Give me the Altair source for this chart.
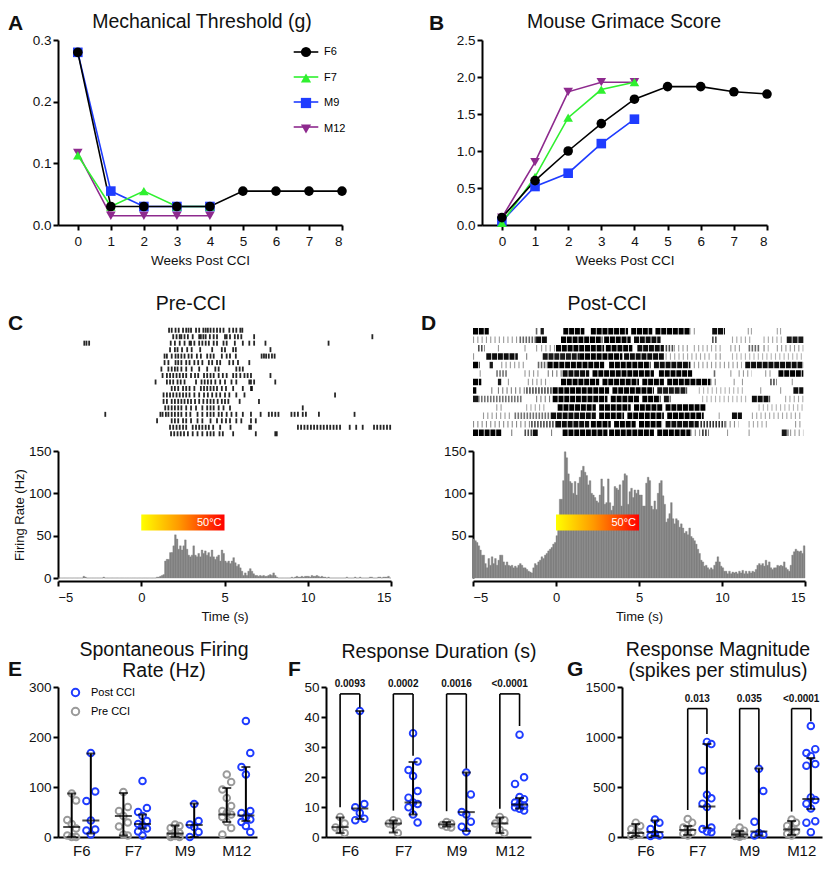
import altair as alt
import pandas as pd

FONT = "Liberation Sans"
INK = "#111111"
BLUE = "#1f3cff"
GRAY = "#9a9a9a"
TFS = 19.5   # panel title font size
LFS = 21     # panel letter font size

# ---------------- A / B : behaviour time courses ----------------
weeks = [0, 1, 2, 3, 4, 5, 6, 7, 8]
animals = ["F6", "F7", "M9", "M12"]
animal_colors = ["#000000", "#2ff02f", "#1f3cff", "#8e2a8e"]
animal_shapes = ["circle", "triangle-up", "square", "triangle-down"]
animal_layer = [3, 2, 1, 0]

mech_F6 = [0.28, 0.03, 0.03, 0.03, 0.03, 0.055, 0.055, 0.055, 0.055]
mech_F7 = [0.113, 0.03, 0.055, 0.03, 0.03]
mech_M9 = [0.28, 0.055, 0.03, 0.03, 0.03]
mech_M12 = [0.117, 0.015, 0.015, 0.015, 0.015]

mgs_F6 = [0.10, 0.60, 1.00, 1.37, 1.70, 1.87, 1.87, 1.80, 1.77]
mgs_F7 = [0.03, 0.65, 1.45, 1.83, 1.93]
mgs_M9 = [0.05, 0.52, 0.70, 1.10, 1.43]
mgs_M12 = [0.10, 0.85, 1.80, 1.93, 1.93]

# ---------------- C / D : rasters and PSTHs ----------------
time_ticks = [-5, 0, 5, 10, 15]
hist_start = -5.0
hist_bin = 0.1
stim_on, stim_off, stim_lo, stim_hi, stim_label = 0.0, 5.0, 56, 75, "50°C"

pre_spikes = [
    [1.67, 1.83, 2.06, 2.25, 2.51, 2.70, 2.84, 2.99, 3.29, 3.48, 3.73, 3.87, 4.00, 4.16, 4.35, 4.55, 4.74, 4.94, 5.29, 5.52, 5.71, 5.95, 6.07],
    [1.92, 2.12, 2.31, 2.41, 2.60, 2.80, 3.09, 3.48, 3.58, 3.73, 3.87, 4.12, 4.35, 4.55, 5.03, 5.13, 5.33, 5.62, 5.81, 6.01, 6.78, 13.88],
    [-3.42, -3.29, -3.13, 1.77, 2.02, 2.31, 2.60, 2.90, 2.99, 3.19, 3.48, 3.67, 3.87, 4.06, 4.35, 4.55, 4.94, 5.13, 5.62, 6.10, 6.49, 6.78, 7.46, 11.25],
    [1.73, 2.02, 2.18, 2.45, 2.76, 3.03, 3.54, 4.26, 4.84, 5.03, 5.52, 5.68, 7.76],
    [1.40, 1.54, 1.83, 2.06, 2.22, 2.41, 2.60, 2.84, 3.03, 3.34, 3.58, 3.96, 4.16, 4.35, 4.84, 5.13, 5.33, 5.68, 7.23, 7.37, 7.50, 7.66, 7.85, 8.01],
    [1.40, 1.63, 2.06, 2.22, 2.41, 2.70, 2.90, 3.19, 3.42, 3.67, 4.06, 4.26, 4.55, 4.74, 5.29, 5.52, 5.81, 6.49],
    [1.21, 1.63, 1.83, 2.02, 2.18, 2.41, 2.70, 3.03, 3.48, 3.96, 4.45, 4.65, 5.71, 5.91, 6.10],
    [1.28, 1.54, 1.73, 1.92, 2.12, 2.31, 2.51, 2.70, 2.99, 3.23, 3.42, 3.77, 3.96, 4.16, 4.35, 4.65, 4.90, 5.13, 5.52, 5.71, 5.95, 6.20, 6.39, 6.59, 7.76],
    [0.86, 1.54, 1.73, 1.92, 2.18, 2.37, 2.60, 3.29, 3.62, 3.81, 4.00, 4.20, 4.45, 4.74, 5.03, 5.42, 5.71, 6.49, 6.59, 6.78, 8.05],
    [1.83, 2.02, 2.22, 2.51, 2.70, 2.90, 3.19, 3.58, 3.77, 3.96, 4.16, 4.35, 4.55, 4.84, 5.09, 5.52, 6.10, 6.59, 6.65],
    [1.34, 1.54, 1.73, 1.92, 2.12, 2.31, 2.51, 2.70, 2.90, 3.19, 3.48, 3.77, 4.00, 4.26, 4.51, 4.74, 5.03, 5.29, 5.71, 6.20, 11.64],
    [1.34, 1.54, 1.83, 2.02, 2.22, 2.41, 2.60, 2.80, 2.99, 3.23, 3.48, 3.73, 3.96, 4.16, 4.35, 4.59, 4.84, 5.03, 5.23, 5.91, 7.07],
    [1.44, 1.63, 1.83, 2.02, 2.22, 2.41, 2.70, 2.99, 3.29, 3.67, 3.96, 4.16, 4.35, 4.65, 4.94, 5.33, 9.70],
    [-2.16, 1.15, 1.28, 1.48, 1.63, 1.83, 2.02, 2.22, 2.41, 2.70, 2.95, 3.38, 3.67, 3.96, 4.16, 4.35, 4.65, 4.84, 5.13, 5.42, 5.71, 6.10, 6.59, 7.17, 7.66, 7.85, 8.05, 8.24, 9.02, 9.21, 9.41, 9.70, 9.89, 10.67, 12.81],
    [0.95, 1.83, 2.02, 2.22, 2.51, 2.70, 2.99, 3.38, 3.67, 4.16, 4.55, 4.84, 5.09, 5.33, 5.71, 6.01, 6.59, 6.88],
    [1.73, 1.92, 2.12, 2.31, 2.51, 2.70, 3.09, 3.29, 3.48, 3.67, 3.87, 4.06, 4.32, 4.74, 5.36, 6.49, 6.59, 9.41, 9.60, 9.80, 9.99, 10.19, 10.38, 10.57, 10.77, 10.96, 11.16, 11.35, 11.55, 11.74, 11.94, 12.52, 12.91, 13.30, 13.98, 14.17, 14.37, 14.56, 14.76, 14.95],
    [1.79, 1.98, 2.18, 2.37, 2.57, 2.80, 3.09, 3.38, 3.67, 3.96, 4.16, 4.35, 4.70, 4.90, 5.52, 6.88, 8.05, 8.14],
]

# post-CCI raster: [start, end, darkness] runs of spikes per trial
post_runs = [
    [[-5.0, -4.05, 0.9], [-1.22, -1.08, 0.5], [-0.93, -0.73, 0.8], [0.44, 1.71, 0.9], [2.10, 4.34, 0.9], [4.53, 5.80, 0.9], [5.99, 8.04, 0.9], [8.04, 8.53, 0.3], [9.41, 10.18, 0.85], [11.55, 11.62, 0.3], [11.74, 11.80, 0.3], [13.30, 13.36, 0.3], [13.50, 13.56, 0.3]],
    [[-5.0, -2.2, 0.3], [-2.2, -1.2, 0.5], [-1.2, -0.5, 0.85], [0.3, 2.8, 0.9], [2.9, 4.5, 0.9], [4.7, 6.3, 0.85], [9.4, 9.7, 0.6], [10.6, 11.8, 0.25], [12.5, 13.6, 0.25], [13.9, 14.9, 0.8]],
    [[-4.7, -4.3, 0.6], [-3.5, -3.4, 0.3], [-1.9, -1.8, 0.3], [-1.2, -1.0, 0.3], [-0.9, 0.0, 0.3], [0.0, 2.9, 0.9], [3.0, 4.6, 0.9], [4.9, 6.5, 0.85], [6.6, 7.1, 0.6], [7.1, 8.1, 0.3], [8.3, 10.0, 0.25], [10.5, 11.2, 0.3], [11.6, 12.3, 0.5], [12.5, 12.8, 0.4], [13.3, 14.9, 0.3]],
    [[-5.0, -4.8, 0.3], [-4.2, -2.3, 0.85], [-1.8, -1.7, 0.4], [-0.8, 1.4, 0.8], [1.4, 4.0, 0.9], [4.1, 6.5, 0.85], [6.6, 9.3, 0.25], [9.6, 10.0, 0.3], [10.6, 14.9, 0.2]],
    [[-5.0, -4.6, 0.9], [-4.0, -3.8, 0.8], [-3.3, -1.9, 0.3], [-1.1, -0.5, 0.5], [-0.5, 2.9, 0.9], [3.2, 5.7, 0.9], [5.9, 8.1, 0.85], [8.3, 11.2, 0.3], [11.4, 14.9, 0.85]],
    [[-4.6, -4.5, 0.3], [-3.6, -2.9, 0.45], [-1.9, -0.9, 0.3], [-0.5, 0.4, 0.4], [0.4, 2.0, 0.85], [2.2, 5.9, 0.9], [6.2, 8.2, 0.9], [9.5, 9.6, 0.5], [10.5, 10.6, 0.3], [11.0, 11.8, 0.3], [12.6, 13.0, 0.3], [13.4, 14.9, 0.9]],
    [[-5.0, -4.5, 0.9], [-3.5, -3.3, 0.8], [-2.9, -2.8, 0.3], [-1.7, -0.4, 0.3], [0.3, 2.6, 0.9], [2.8, 5.0, 0.9], [5.2, 6.5, 0.9], [6.7, 9.3, 0.9], [9.3, 9.8, 0.4], [10.7, 10.8, 0.3], [11.2, 11.3, 0.3], [12.9, 13.3, 0.6], [14.2, 14.3, 0.3]],
    [[-5.0, -4.8, 0.9], [-3.9, -3.8, 0.4], [-3.5, -1.8, 0.4], [-1.8, -0.2, 0.6], [-0.2, 3.2, 0.9], [3.4, 5.9, 0.9], [6.1, 7.9, 0.8], [8.6, 11.4, 0.2], [12.3, 12.4, 0.3], [13.5, 13.6, 0.3], [14.3, 14.9, 0.85]],
    [[-5.0, -4.7, 0.8], [-4.7, -2.0, 0.45], [-1.2, -0.2, 0.4], [-0.2, 3.1, 0.9], [3.3, 5.0, 0.9], [5.2, 6.3, 0.9], [6.5, 6.9, 0.8], [8.8, 11.6, 0.2], [11.8, 12.9, 0.85], [13.8, 14.9, 0.25]],
    [[-3.6, -3.1, 0.3], [-1.8, -0.7, 0.25], [0.1, 2.4, 0.9], [2.6, 4.5, 0.9], [4.7, 6.4, 0.9], [6.6, 9.0, 0.9], [12.2, 14.9, 0.2]],
    [[-4.4, -2.7, 0.3], [-2.5, -0.3, 0.45], [-0.3, 2.4, 0.85], [2.6, 4.1, 0.9], [4.3, 6.5, 0.9], [6.7, 8.9, 0.9], [9.8, 9.86, 0.3], [10.6, 11.2, 0.85], [11.8, 14.9, 0.25]],
    [[-5.0, -1.5, 0.35], [-1.5, 0.0, 0.6], [0.0, 2.0, 0.85], [2.1, 3.3, 0.9], [3.5, 4.8, 0.9], [5.0, 6.4, 0.9], [6.6, 8.6, 0.85], [8.7, 10.2, 0.7], [10.2, 11.0, 0.35], [11.6, 12.8, 0.25], [14.4, 14.9, 0.3]],
    [[-5.0, -3.3, 0.9], [-2.7, -2.6, 0.4], [-1.9, -1.4, 0.6], [-1.4, -1.1, 0.85], [-0.3, -0.2, 0.4], [0.4, 3.1, 0.9], [3.2, 5.9, 0.9], [6.1, 8.1, 0.9], [8.1, 8.8, 0.35], [8.8, 9.2, 0.7], [10.3, 10.4, 0.3], [11.6, 11.7, 0.3], [13.6, 14.0, 0.8], [14.1, 14.9, 0.3]],
]
run_kinds = ["dense", "medium", "sparse"]
run_dashes = [[5, 0.8], [1.6, 1.4], [1.1, 3.2]]

hist_pre = [
    0, 0, 0, 0, 0, 0, 0, 0, 0, 0,
    0, 0, 0, 0, 0, 2, 1, 0, 0, 0,
    0, 0, 0, 0, 0, 0, 0, 1, 0, 0,
    0, 0, 0, 0, 0, 0, 0, 0, 0, 0,
    0, 0, 0, 0, 0, 0, 0, 0, 0, 0,
    0, 0, 0, 0, 0, 0, 0, 0, 0, 1,
    1, 2, 3, 4, 20, 22, 22, 30, 30, 38,
    51, 46, 34, 38, 33, 38, 45, 34, 27, 25,
    27, 38, 27, 25, 29, 25, 33, 29, 32, 27,
    30, 25, 33, 25, 22, 25, 27, 20, 33, 29,
    20, 18, 20, 17, 20, 24, 18, 14, 16, 12,
    8, 3, 6, 3, 8, 11, 8, 5, 3, 3,
    2, 3, 2, 3, 2, 2, 3, 4, 3, 6,
    3, 1, 0, 0, 0, 0, 0, 0, 0, 0,
    1, 0, 1, 2, 1, 1, 2, 1, 2, 2,
    2, 1, 3, 2, 2, 3, 2, 1, 2, 1,
    1, 0, 1, 0, 0, 0, 0, 0, 0, 0,
    0, 0, 0, 1, 0, 0, 0, 0, 1, 0,
    0, 1, 0, 0, 0, 0, 0, 1, 1, 0,
    0, 0, 1, 1, 0, 1, 1, 1, 2, 0,
]

hist_post = [
    46, 44, 42, 38, 33, 27, 27, 17, 12, 23,
    15, 25, 17, 23, 15, 21, 27, 27, 19, 15,
    19, 15, 14, 15, 12, 14, 12, 15, 17, 15,
    12, 12, 10, 8, 7, 6, 12, 17, 15, 19,
    21, 25, 23, 27, 29, 32, 34, 36, 40, 42,
    50, 70, 93, 93, 115, 149, 142, 123, 114, 112,
    100, 114, 98, 112, 119, 127, 132, 125, 121, 110,
    115, 100, 98, 95, 91, 89, 98, 117, 108, 87,
    89, 117, 89, 80, 85, 108, 106, 104, 110, 85,
    115, 123, 121, 87, 102, 106, 95, 104, 100, 104,
    98, 98, 85, 85, 112, 119, 115, 85, 81, 91,
    81, 100, 112, 115, 97, 87, 66, 70, 76, 89,
    70, 64, 70, 68, 60, 64, 59, 53, 55, 51,
    59, 49, 47, 44, 40, 34, 29, 21, 19, 14,
    15, 12, 10, 12, 10, 15, 19, 25, 19, 14,
    12, 8, 8, 5, 8, 5, 7, 6, 7, 5,
    8, 6, 9, 5, 8, 5, 8, 6, 8, 7,
    10, 15, 17, 15, 17, 14, 21, 15, 19, 12,
    10, 12, 12, 15, 14, 15, 14, 19, 12, 10,
    8, 15, 27, 31, 34, 32, 31, 32, 29, 38,
]

# ---------------- E / F / G : per-animal dot plots ----------------
groups = ["Post CCI", "Pre CCI"]

sfr_pre = {"F6": [87, 73, 34, 26, 17, 3, 0, 0], "F7": [90, 60, 52, 42, 29, 21, 5, 3],
           "M9": [25, 22, 18, 10, 8, 5, 2, 0, 0], "M12": [125, 110, 95, 78, 62, 52, 48, 45, 40, 30, 18, 5]}
sfr_post = {"F6": [168, 91, 72, 33, 15, 13, 5], "F7": [112, 58, 50, 42, 32, 26, 23, 17, 11, 3],
            "M9": [66, 32, 25, 20, 10, 0], "M12": [232, 168, 140, 125, 52, 48, 40, 35, 30, 22, 10]}
sfr_pre_bar = {"F6": [0, 20, 87], "F7": [3, 42, 88], "M9": [0, 7, 23], "M12": [30, 45, 98]}
sfr_post_bar = {"F6": [7, 33, 167], "F7": [17, 26, 45], "M9": [0, 24, 67], "M12": [32, 43, 140]}

rd_pre = {"F6": [6.7, 4.5, 3.2, 2.4, 1.3], "F7": [5.6, 5.1, 4.5, 4.0, 1.3],
          "M9": [5.0, 4.5, 4.0, 3.4, 3.2], "M12": [6.7, 5.6, 4.5, 2.4, 1.3]}
rd_post = {"F6": [42, 11, 9.9, 8, 6.1, 5.6], "F7": [34.6, 25.2, 22.3, 20.3, 15.3, 13.1, 11.5, 11, 9.9, 7.5, 4.8],
           "M9": [21.5, 14.2, 8.3, 7.5, 5.1, 3.4, 1.8], "M12": [34.1, 19.9, 17.7, 13.3, 12.6, 11.5, 11, 10.4, 9.9, 9.4, 8.8]}
rd_pre_bar = {"F6": [1.3, 3.3, 6.5], "F7": [1.5, 4.5, 5.5], "M9": [3.5, 4.2, 5.0], "M12": [1.3, 4.5, 6.5]}
rd_post_bar = {"F6": [6, 9.5, 42], "F7": [7.5, 11.5, 25], "M9": [2, 8.3, 21.5], "M12": [9.5, 10.8, 13]}
rd_brackets = {"cat": [1, 2, 3, 4], "pre_leg": [9.9, 8.8, 8.6, 9.4], "post_leg": [43.2, 27.1, 22.8, 37.0],
               "top": [47.7] * 4, "p": ["0.0093", "0.0002", "0.0016", "<0.0001"], "p_y": [49.2] * 4}

rm_pre = {"F6": [143, 111, 79, 48, 22, 10], "F7": [180, 143, 95, 73, 48, 32, 16],
          "M9": [95, 63, 48, 32, 16, 10, 3], "M12": [174, 143, 111, 79, 54, 32, 16]}
rm_post = {"F6": [174, 143, 79, 32, 16, 10], "F7": [951, 929, 666, 422, 387, 333, 301, 95, 79, 54, 48],
           "M9": [682, 460, 152, 41, 22, 16],
           "M12": [1110, 878, 840, 808, 729, 713, 396, 371, 333, 285, 158, 143, 48]}
rm_pre_bar = {"F6": [10, 40, 130], "F7": [20, 70, 110], "M9": [5, 25, 60], "M12": [20, 75, 160]}
rm_post_bar = {"F6": [10, 50, 165], "F7": [90, 305, 930], "M9": [15, 55, 685], "M12": [280, 380, 790]}
rm_brackets = {"cat": [2, 3, 4], "pre_leg": [270, 175, 254], "post_leg": [1030, 713, 1157],
               "top": [1284] * 3, "p": ["0.013", "0.035", "<0.0001"], "p_y": [1330] * 3}

GROUP_OFFSET = 0.185
JITTER = 0.085


def text_layer(text, x, y, size, weight="normal", align="center", baseline="alphabetic", line_height=None):
    kw = dict(text=text, fontSize=size, fontWeight=weight, align=align, baseline=baseline,
              font=FONT, color=INK)
    if line_height:
        kw["lineHeight"] = line_height
    return alt.Chart(pd.DataFrame({"k": [0]})).mark_text(**kw).encode(
        x=alt.value(x), y=alt.value(y))


def course_panel(series, ydom, yvals, yfmt, width, height, title, tx, ty, letter, lx, ly, legend):
    rows = []
    for a, vals in series.items():
        for w, v in zip(weeks, vals):
            rows.append({"animal": a, "week": w, "value": v, "z": animal_layer[animals.index(a)]})
    df = pd.DataFrame(rows)
    xenc = alt.X("week:Q", scale=alt.Scale(domain=[-0.6, 8], nice=False, zero=False),
                 axis=alt.Axis(values=weeks, format="d", title="Weeks Post CCI", titlePadding=6,
                               labelPadding=4))
    yenc = alt.Y("value:Q", scale=alt.Scale(domain=ydom, nice=False),
                 axis=alt.Axis(values=yvals, format=yfmt, title=None))
    cscale = alt.Scale(domain=animals, range=animal_colors)
    sscale = alt.Scale(domain=animals, range=animal_shapes)
    # line key uses a distinct (space-suffixed) domain so it is not merged with the marker key
    line_domain = [a + " " for a in animals]
    lscale = alt.Scale(domain=line_domain, range=animal_colors)
    common = dict(orient="none", legendX=242, legendY=6, title=None, labelFontSize=11,
                  symbolSize=105, rowPadding=14, labelOffset=12, labelFont=FONT)
    if legend:
        pt_leg = alt.Legend(**common)
        line_leg = alt.Legend(symbolType="M-2.4,0L2.4,0", symbolStrokeWidth=1.6,
                              labelOpacity=0, labelExpr="''", **common)
    else:
        pt_leg = None
        line_leg = None
    lines = alt.Chart(df).transform_calculate(series="datum.animal + ' '").mark_line(
        strokeWidth=1.6).encode(
        x=xenc, y=yenc,
        stroke=alt.Stroke("series:N", scale=lscale, legend=line_leg),
        order="week:Q")
    pts = alt.Chart(df).mark_point(filled=True, size=92, opacity=1).encode(
        x=xenc, y=yenc,
        color=alt.Color("animal:N", scale=cscale, legend=pt_leg),
        shape=alt.Shape("animal:N", scale=sscale, legend=pt_leg),
        order=alt.Order("z:Q"))
    return alt.layer(
        lines, pts,
        text_layer(title, tx, ty, TFS),
        text_layer(letter, lx, ly, LFS, weight="bold", align="left"),
    ).resolve_legend(stroke="independent", color="independent", shape="independent"
                     ).properties(width=width, height=height)


def raster_pre(width, height, title, tx, ty, letter, lx, ly):
    rows = [{"trial": i, "t": t} for i, tr in enumerate(pre_spikes) for t in tr]
    df = pd.DataFrame(rows)
    ras = alt.Chart(df).mark_tick(thickness=1.8, size=5, opacity=0.85, color="black").encode(
        x=alt.X("t:Q", scale=alt.Scale(domain=[-5, 15], nice=False, zero=False), axis=None),
        y=alt.Y("trial:O", axis=None))
    return alt.layer(ras, text_layer(title, tx, ty, TFS),
                     text_layer(letter, lx, ly, LFS, weight="bold", align="left")
                     ).properties(width=width, height=height)


def raster_post(width, height, title, tx, ty, letter, lx, ly):
    rows = []
    for i, tr in enumerate(post_runs):
        for s, e, d in tr:
            kind = "dense" if d >= 0.75 else ("medium" if d >= 0.45 else "sparse")
            rows.append({"trial": i, "start": s, "end": e, "shade": min(1.0, d + 0.1), "kind": kind})
    df = pd.DataFrame(rows)
    ras = alt.Chart(df).mark_rule(color="black", strokeWidth=6.5).encode(
        x=alt.X("start:Q", scale=alt.Scale(domain=[-5, 15], nice=False, zero=False), axis=None),
        x2="end:Q",
        y=alt.Y("trial:O", axis=None, scale=alt.Scale(type="point", padding=0.5)),
        strokeDash=alt.StrokeDash("kind:N", scale=alt.Scale(domain=run_kinds, range=run_dashes),
                                  legend=None),
        opacity=alt.Opacity("shade:Q", scale=None))
    return alt.layer(ras, text_layer(title, tx, ty, TFS),
                     text_layer(letter, lx, ly, LFS, weight="bold", align="left")
                     ).properties(width=width, height=height)


def psth(rates, yvals, ytitle, width, height):
    df = pd.DataFrame({"bin": list(range(len(rates))), "rate": rates})
    xscale = alt.Scale(domain=[-5, 15], nice=False, zero=False)
    yscale = alt.Scale(domain=[0, 150], nice=False)
    xaxis = alt.Axis(values=time_ticks, title="Time (s)", offset=3, titleFontSize=13,
                     labelFontSize=13, labelPadding=5, titlePadding=6)
    yaxis = alt.Axis(values=yvals, title=ytitle, titleFontSize=13, titlePadding=2, labelPadding=2)
    bars = alt.Chart(df).transform_calculate(
        t0=f"{hist_start} + datum.bin * {hist_bin}",
        t1=f"{hist_start} + (datum.bin + 1) * {hist_bin}",
    ).mark_rect(color="#808080", stroke="#808080", strokeWidth=0.4).encode(
        x=alt.X("t0:Q", scale=xscale, axis=xaxis, title="Time (s)"),
        x2="t1:Q",
        y=alt.Y("rate:Q", scale=yscale, axis=yaxis, title=ytitle),
        y2=alt.datum(0))
    sdf = pd.DataFrame({"start": [stim_on], "end": [stim_off], "lo": [stim_lo], "hi": [stim_hi],
                        "label": [stim_label]})
    grad = alt.Gradient(gradient="linear",
                        stops=[alt.GradientStop(color="#ffff00", offset=0),
                               alt.GradientStop(color="#ff9a00", offset=0.45),
                               alt.GradientStop(color="#ff0000", offset=1)],
                        x1=0, x2=1, y1=0, y2=0)
    stim = alt.Chart(sdf).mark_rect(color=grad).encode(
        x=alt.X("start:Q", scale=xscale, axis=xaxis, title="Time (s)"), x2="end:Q",
        y=alt.Y("lo:Q", scale=yscale, axis=yaxis, title=ytitle), y2="hi:Q")
    lab = alt.Chart(sdf).transform_calculate(mid="(datum.lo + datum.hi) / 2").mark_text(
        align="right", baseline="middle", dx=-3, fontSize=11, color="white", font=FONT).encode(
        x=alt.X("end:Q", scale=xscale, axis=xaxis, title="Time (s)"),
        y=alt.Y("mid:Q", scale=yscale, axis=yaxis, title=ytitle), text="label:N")
    return alt.layer(bars, stim, lab).properties(width=width, height=height)


def dot_panel(pre, post, pre_bar, post_bar, ydom, yvals, width, height, legend, brackets,
              title, tx, ty, tbase, letter, lx, ly):
    rows = []
    for ci, a in enumerate(animals):
        for v in pre[a]:
            rows.append({"cat": ci + 1, "group": "Pre CCI", "value": v})
        for v in post[a]:
            rows.append({"cat": ci + 1, "group": "Post CCI", "value": v})
    df = pd.DataFrame(rows)
    brows = []
    for ci, a in enumerate(animals):
        lo, md, hi = pre_bar[a]
        brows.append({"cat": ci + 1, "group": "Pre CCI", "lo": lo, "med": md, "hi": hi})
        lo, md, hi = post_bar[a]
        brows.append({"cat": ci + 1, "group": "Post CCI", "lo": lo, "med": md, "hi": hi})
    bdf = pd.DataFrame(brows)

    xscale = alt.Scale(domain=[0.55, 4.4], nice=False, zero=False)
    xaxis = alt.Axis(values=[1, 2, 3, 4], labelExpr="['F6','F7','M9','M12'][datum.value - 1]",
                     ticks=False, title=None, labelFontSize=15, labelPadding=6)
    yscale = alt.Scale(domain=ydom, nice=False)
    yaxis = alt.Axis(values=yvals, title=None, format="d")
    gscale = alt.Scale(domain=groups, range=[BLUE, GRAY])
    xpos_expr = f"datum.cat + (datum.group == 'Pre CCI' ? -{GROUP_OFFSET} : {GROUP_OFFSET})"

    if legend:
        leg = alt.Legend(orient="none", legendX=12, legendY=0, title=None, labelFontSize=11,
                         symbolSize=55, symbolStrokeWidth=2, rowPadding=2, labelOffset=10,
                         labelFont=FONT)
    else:
        leg = None

    pts = alt.Chart(df).transform_window(
        rank="row_number()", groupby=["cat", "group"],
        sort=[alt.SortField("value", order="descending")],
    ).transform_calculate(
        xpos=xpos_expr + f" + ((datum.rank % 3) - 1) * {JITTER}"
    ).mark_point(shape="circle", filled=False, size=44, strokeWidth=1.9, opacity=1).encode(
        x=alt.X("xpos:Q", scale=xscale, axis=xaxis, title=None),
        y=alt.Y("value:Q", scale=yscale, axis=yaxis, title=None),
        color=alt.Color("group:N", scale=gscale, legend=leg))

    eb = alt.Chart(bdf).transform_calculate(xpos=xpos_expr)
    ex = alt.X("xpos:Q", scale=xscale, axis=xaxis, title=None)
    whisk = eb.mark_rule(color="black", strokeWidth=2).encode(
        x=ex, y=alt.Y("lo:Q", scale=yscale, axis=yaxis, title=None), y2="hi:Q")
    med = eb.mark_tick(orient="horizontal", color="black", size=17, thickness=2).encode(
        x=ex, y=alt.Y("med:Q", scale=yscale, axis=yaxis, title=None))
    caplo = eb.mark_tick(orient="horizontal", color="black", size=9, thickness=2).encode(
        x=ex, y=alt.Y("lo:Q", scale=yscale, axis=yaxis, title=None))
    caphi = eb.mark_tick(orient="horizontal", color="black", size=9, thickness=2).encode(
        x=ex, y=alt.Y("hi:Q", scale=yscale, axis=yaxis, title=None))
    layers = [pts, whisk, med, caplo, caphi]

    if brackets is not None:
        kdf = pd.DataFrame(brackets)
        kb = alt.Chart(kdf).transform_calculate(
            xl=f"datum.cat - {GROUP_OFFSET}", xr=f"datum.cat + {GROUP_OFFSET}")
        left = kb.mark_rule(color="black", strokeWidth=1.6).encode(
            x=alt.X("xl:Q", scale=xscale, axis=xaxis, title=None),
            y=alt.Y("pre_leg:Q", scale=yscale, axis=yaxis, title=None), y2="top:Q")
        right = kb.mark_rule(color="black", strokeWidth=1.6).encode(
            x=alt.X("xr:Q", scale=xscale, axis=xaxis, title=None),
            y=alt.Y("post_leg:Q", scale=yscale, axis=yaxis, title=None), y2="top:Q")
        topl = kb.mark_rule(color="black", strokeWidth=1.6).encode(
            x=alt.X("xl:Q", scale=xscale, axis=xaxis, title=None), x2="xr:Q",
            y=alt.Y("top:Q", scale=yscale, axis=yaxis, title=None))
        ptxt = kb.mark_text(fontSize=10, fontWeight="bold", baseline="bottom", font=FONT,
                            color=INK).encode(
            x=alt.X("cat:Q", scale=xscale, axis=xaxis, title=None),
            y=alt.Y("p_y:Q", scale=yscale, axis=yaxis, title=None), text="p:N")
        layers += [left, right, topl, ptxt]

    layers.append(text_layer(title, tx, ty, TFS, baseline=tbase, line_height=21))
    layers.append(text_layer(letter, lx, ly, LFS, weight="bold", align="left"))
    return alt.layer(*layers).properties(width=width, height=height)


def indep(c):
    return c.resolve_scale(color="independent", shape="independent", stroke="independent",
                           strokeDash="independent", opacity="independent")


# ---------------- assemble ----------------
A = course_panel({"M12": mech_M12, "M9": mech_M9, "F7": mech_F7, "F6": mech_F6},
                 [0, 0.3], [0, 0.1, 0.2, 0.3], ".1f", 284, 185,
                 "Mechanical Threshold (g)", 144, -12, "A", -50, -10, True)
B = course_panel({"M12": mgs_M12, "M9": mgs_M9, "F7": mgs_F7, "F6": mgs_F6},
                 [0, 2.5], [0, 0.5, 1.0, 1.5, 2.0, 2.5], ".1f", 285, 185,
                 "Mouse Grimace Score", 142, -12, "B", -53, -10, False)
row1 = indep(alt.hconcat(A, B, spacing=82))

C = alt.vconcat(raster_pre(333, 110, "Pre-CCI", 133, -17, "C", -50, 3),
                psth(hist_pre, [0, 50, 100, 150], "Firing Rate (Hz)", 333, 127), spacing=7)
D = alt.vconcat(raster_post(332, 110, "Post-CCI", 134, -17, "D", -52, 3),
                psth(hist_post, [50, 100, 150], None, 332, 127), spacing=7)
row2 = indep(alt.hconcat(C, D, spacing=29))

E = dot_panel(sfr_pre, sfr_post, sfr_pre_bar, sfr_post_bar, [0, 300], [0, 100, 200, 300], 199, 150,
              True, None, ["Spontaneous Firing", "Rate (Hz)"], 106, -46, "top", "E", -50, -11)
F = dot_panel(rd_pre, rd_post, rd_pre_bar, rd_post_bar, [0, 50], [0, 10, 20, 30, 40, 50], 205, 150,
              False, rd_brackets, "Response Duration (s)", 113, -29, "alphabetic", "F", -38, -11)
G = dot_panel(rm_pre, rm_post, rm_pre_bar, rm_post_bar, [0, 1500], [0, 500, 1000, 1500], 200, 150,
              False, rm_brackets, ["Response Magnitude", "(spikes per stimulus)"], 96, -46, "top",
              "G", -55, -11)
row3 = indep(alt.hconcat(E, F, G, spacing=30))

lower = indep(alt.vconcat(row2, row3, spacing=17))
final = indep(alt.vconcat(row1, lower, spacing=27)).properties(
    padding={"left": 0, "top": 4, "right": 0, "bottom": 0}
).configure(font=FONT).configure_view(stroke=None).configure_axis(
    domainColor="black", domainWidth=2, tickColor="black", tickWidth=2, tickSize=5,
    labelFont=FONT, labelFontSize=13.5, labelColor=INK, titleFont=FONT, titleFontSize=13.5,
    titleFontWeight="normal", titleColor=INK, grid=False,
)

final.save("out.html", embed_options={"renderer": "svg", "actions": False})
